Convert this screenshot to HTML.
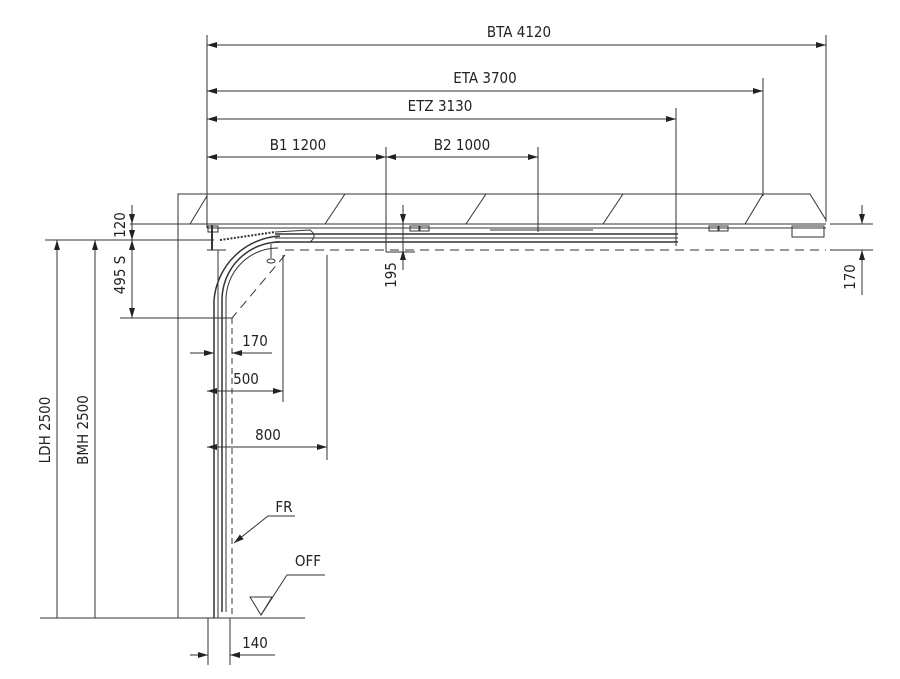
<!DOCTYPE html>
<html><head><meta charset="utf-8"><style>
html,body{margin:0;padding:0;background:#fff;}
svg{display:block;}
text{font-family:"DejaVu Sans Condensed","DejaVu Sans","Liberation Sans",sans-serif;font-stretch:condensed;font-size:15px;fill:#222;}
</style></head><body>
<svg width="900" height="679" viewBox="0 0 900 679" xmlns="http://www.w3.org/2000/svg">
<defs>
<marker id="a" viewBox="0 0 10 6" refX="10" refY="3" markerWidth="10" markerHeight="6" orient="auto-start-reverse" markerUnits="userSpaceOnUse"><path d="M0,0 L10,3 L0,6 z" fill="#222"/></marker>
</defs>
<g stroke="#333" stroke-width="1" fill="none">
<line x1="207" y1="35" x2="207" y2="228"/>
<line x1="826" y1="35" x2="826" y2="222"/>
<line x1="763" y1="78" x2="763" y2="196"/>
<line x1="676" y1="108" x2="676" y2="246"/>
<line x1="386" y1="147" x2="386" y2="252"/>
<line x1="538" y1="147" x2="538" y2="232"/>
<line x1="207" y1="45" x2="826" y2="45" marker-start="url(#a)" marker-end="url(#a)"/>
<line x1="207" y1="91" x2="763" y2="91" marker-start="url(#a)" marker-end="url(#a)"/>
<line x1="207" y1="119" x2="676" y2="119" marker-start="url(#a)" marker-end="url(#a)"/>
<line x1="207" y1="157" x2="386" y2="157" marker-start="url(#a)" marker-end="url(#a)"/>
<line x1="386" y1="157" x2="538" y2="157" marker-start="url(#a)" marker-end="url(#a)"/>
<path d="M178,618 L178,194 L810,194 L826,220"/>
<line x1="178" y1="224" x2="826" y2="224"/>
<line x1="190" y1="224" x2="207" y2="196"/>
<line x1="325" y1="224" x2="345" y2="194"/>
<line x1="466" y1="224" x2="486" y2="194"/>
<line x1="603" y1="224" x2="623" y2="194"/>
<line x1="745" y1="224" x2="763" y2="194"/>
<line x1="207" y1="228" x2="826" y2="228"/>
<rect x="792" y="226" width="32" height="11"/>
<rect x="410" y="226" width="9" height="5"/><rect x="420" y="226" width="9" height="5"/>
<rect x="709" y="226" width="9" height="5"/><rect x="719" y="226" width="9" height="5"/>
<line x1="490" y1="230" x2="593" y2="230"/>
<line x1="275" y1="234" x2="678" y2="234" stroke-width="1.5"/>
<line x1="275" y1="238" x2="678" y2="238"/>
<line x1="275" y1="242" x2="678" y2="242" stroke-width="1.5"/>
<path d="M214,618 L214,300 A70,70 0 0 1 280,236" stroke-width="1.5"/>
<path d="M222,612 L222,300 A58,58 0 0 1 280,242" stroke-width="1.5"/>
<path d="M226,612 L226,300 A52,52 0 0 1 278,248"/>
<line x1="214" y1="618" x2="226" y2="618"/>
<line x1="212" y1="225" x2="212" y2="250" stroke-width="2"/>
<rect x="208" y="226" width="10" height="6"/>
<line x1="220" y1="240" x2="275" y2="232" stroke-dasharray="2,1.5" stroke-width="2"/>
<path d="M275,232 L310,230 Q318,236 310,242 L276,242"/>
<line x1="271" y1="244" x2="271" y2="258"/>
<ellipse cx="271" cy="261" rx="4" ry="2"/>
<line x1="285" y1="250" x2="826" y2="250" stroke-dasharray="9,6"/>
<line x1="285" y1="255" x2="232" y2="318" stroke-dasharray="9,6"/>
<line x1="232" y1="318" x2="232" y2="618" stroke-dasharray="6,4"/>
<line x1="218" y1="250" x2="218" y2="618"/>
<line x1="207" y1="250" x2="226" y2="250"/>
<line x1="40" y1="618" x2="305" y2="618"/>
<line x1="45" y1="240" x2="214" y2="240"/>
<line x1="57" y1="240" x2="57" y2="618" marker-start="url(#a)"/>
<line x1="95" y1="240" x2="95" y2="618" marker-start="url(#a)"/>
<line x1="130" y1="224" x2="207" y2="224"/>
<line x1="120" y1="318" x2="232" y2="318"/>
<line x1="132" y1="205" x2="132" y2="224" marker-end="url(#a)"/>
<line x1="132" y1="240" x2="132" y2="224" marker-start="url(#a)"/>
<line x1="132" y1="240" x2="132" y2="318" marker-end="url(#a)" marker-start="url(#a)"/>
<line x1="403" y1="205" x2="403" y2="224" marker-end="url(#a)"/>
<line x1="403" y1="270" x2="403" y2="250" marker-end="url(#a)"/>
<line x1="403" y1="224" x2="403" y2="250"/>
<line x1="386" y1="252" x2="415" y2="252"/>
<line x1="830" y1="224" x2="873" y2="224"/>
<line x1="830" y1="250" x2="873" y2="250"/>
<line x1="862" y1="205" x2="862" y2="224" marker-end="url(#a)"/>
<line x1="862" y1="295" x2="862" y2="250" marker-end="url(#a)"/>
<line x1="283" y1="255" x2="283" y2="402"/>
<line x1="327" y1="255" x2="327" y2="460"/>
<line x1="190" y1="353" x2="214" y2="353" marker-end="url(#a)"/>
<line x1="272" y1="353" x2="232" y2="353" marker-end="url(#a)"/>
<line x1="207" y1="391" x2="283" y2="391" marker-start="url(#a)" marker-end="url(#a)"/>
<line x1="207" y1="447" x2="327" y2="447" marker-start="url(#a)" marker-end="url(#a)"/>
<line x1="208" y1="618" x2="208" y2="665"/>
<line x1="230" y1="618" x2="230" y2="665"/>
<line x1="190" y1="655" x2="208" y2="655" marker-end="url(#a)"/>
<line x1="275" y1="655" x2="230" y2="655" marker-end="url(#a)"/>
<polyline points="295,516 268,516 234,543" marker-end="url(#a)"/>
<polyline points="325,575 287,575 261,615"/>
<path d="M250,597 L272,597 L261,615 Z"/>
</g>
<g>
<text x="519" y="37" text-anchor="middle">BTA 4120</text>
<text x="485" y="83" text-anchor="middle">ETA 3700</text>
<text x="440" y="111" text-anchor="middle">ETZ 3130</text>
<text x="298" y="150" text-anchor="middle">B1 1200</text>
<text x="462" y="150" text-anchor="middle">B2 1000</text>
<text x="255" y="346" text-anchor="middle">170</text>
<text x="246" y="384" text-anchor="middle">500</text>
<text x="268" y="440" text-anchor="middle">800</text>
<text x="255" y="648" text-anchor="middle">140</text>
<text x="284" y="512" text-anchor="middle">FR</text>
<text x="308" y="566" text-anchor="middle">OFF</text>
<text transform="translate(50,430) rotate(-90)" text-anchor="middle">LDH 2500</text>
<text transform="translate(88,430) rotate(-90)" text-anchor="middle">BMH 2500</text>
<text transform="translate(125,225) rotate(-90)" text-anchor="middle">120</text>
<text transform="translate(125,275) rotate(-90)" text-anchor="middle">495  S</text>
<text transform="translate(396,275) rotate(-90)" text-anchor="middle">195</text>
<text transform="translate(855,277) rotate(-90)" text-anchor="middle">170</text>
</g>
</svg>
</body></html>
